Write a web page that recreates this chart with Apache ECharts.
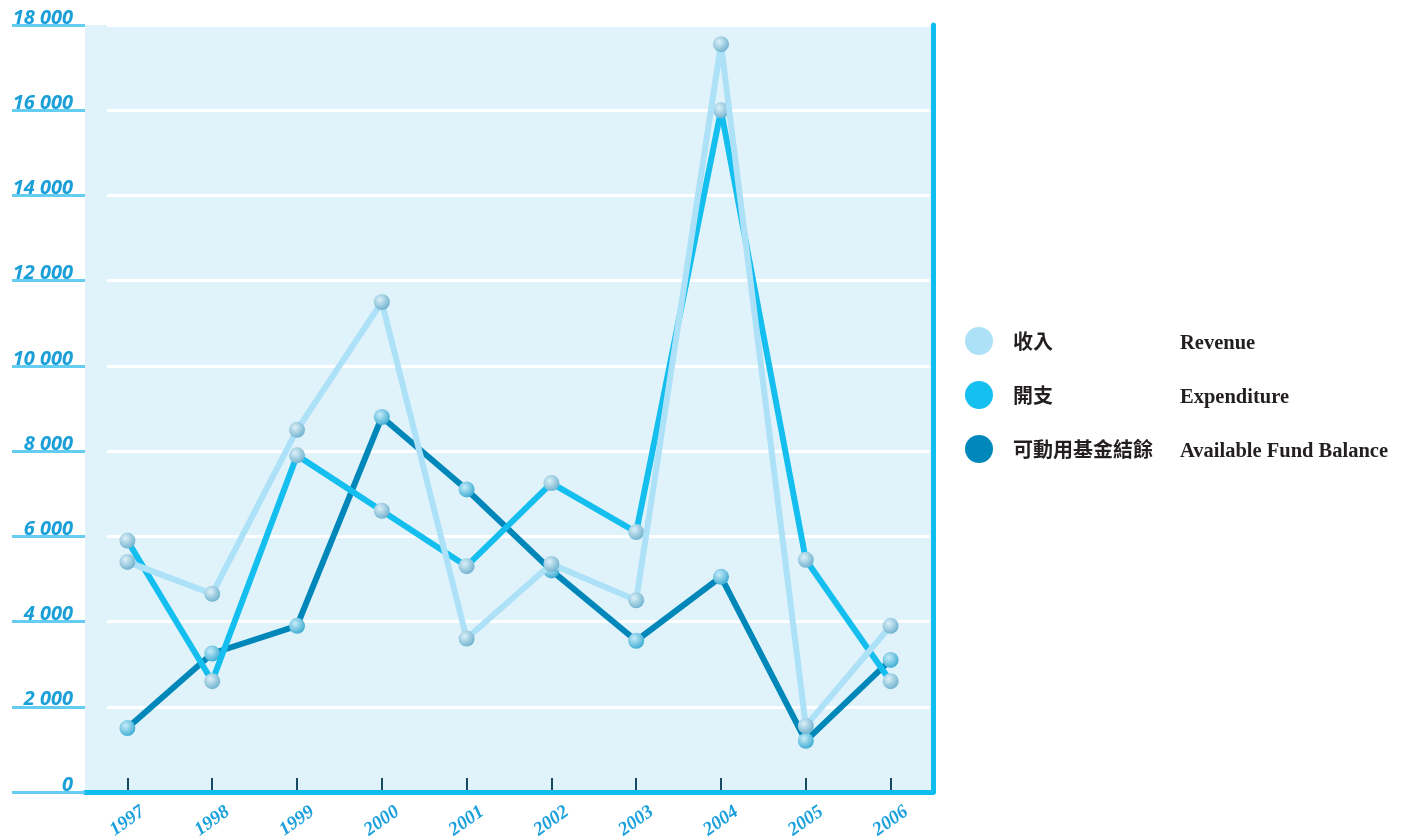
<!DOCTYPE html>
<html>
<head>
<meta charset="utf-8">
<script src="https://cdn.jsdelivr.net/npm/echarts@6/dist/echarts.min.js"></script>
<style>html,body{margin:0;padding:0;background:#fff;}#c{width:1407px;height:838px;}</style>
</head>
<body>
<div id="c"></div>
<script>
const years = ['1997','1998','1999','2000','2001','2002','2003','2004','2005','2006'];
const revenue = [5400, 4650, 8500, 11500, 3600, 5350, 4500, 17550, 1550, 3900];
const expenditure = [5900, 2600, 7900, 6600, 5300, 7250, 6100, 16000, 5450, 2600];
const balance = [1500, 3250, 3900, 8800, 7100, 5200, 3550, 5050, 1200, 3100];
const seriesNamesCn = ['收入', '開支', '可動用基金結餘'];
const seriesNamesEn = ['Revenue', 'Expenditure', 'Available Fund Balance'];
const yTickLabels = ['0','2 000','4 000','6 000','8 000','10 000','12 000','14 000','16 000','18 000'];

const chart = echarts.init(document.getElementById('c'));
function ball(c1, c2) {
  return new echarts.graphic.RadialGradient(0.38, 0.35, 0.7, [
    {offset: 0, color: c1}, {offset: 1, color: c2}
  ]);
}
const lineColors = ['#ade1f8', '#14bff0', '#0087ba'];
const legendColors = ['#ade1f8', '#14c0f0', '#0088bb'];
const markerColors = [ball('#dcf0f8', '#6cb0cd'), ball('#dcf0f8', '#6cb0cd'), ball('#c6ecf8', '#3aaad2')];
const dataArr = [revenue, expenditure, balance];
const names = seriesNamesCn;

const series = [2, 1, 0].map(i => ({
  name: names[i],
  type: 'line',
  xAxisIndex: 0, yAxisIndex: 0,
  data: dataArr[i],
  symbol: 'circle',
  symbolSize: 16,
  showSymbol: true,
  lineStyle: {color: lineColors[i], width: 6},
  itemStyle: {color: markerColors[i]},
  emphasis: {disabled: true},
  animation: false,
  z: 3 + (2 - i)
}));

chart.setOption({
  animation: false,
  grid: [
    {left: 85, right: 474, top: 25, bottom: 46, show: true, backgroundColor: '#e0f3fb', borderWidth: 0, containLabel: false, outerBoundsMode: 'none'},
    {left: 107, right: 477, top: 25, bottom: 46, show: false, containLabel: false, outerBoundsMode: 'none'}
  ],
  legend: {
    orient: 'vertical',
    left: 960, top: 319,
    itemWidth: 28, itemHeight: 28, itemGap: 20,
    icon: 'circle',
    selectedMode: false,
    data: names.map((n, i) => ({name: n, itemStyle: {color: legendColors[i]}})),
    formatter: function (name) {
      const i = names.indexOf(name);
      return '{sp|}{cn|' + name + '}{en|' + seriesNamesEn[i] + '}';
    },
    textStyle: {
      rich: {
        sp: {width: 15, height: 28},
        cn: {width: 167, height: 28, verticalAlign: 'middle', fontFamily: 'Noto Sans CJK TC', fontWeight: 'bold', fontSize: 20, color: '#231f20', lineHeight: 28},
        en: {height: 28, verticalAlign: 'middle', padding: [6, 0, 0, 0], fontFamily: 'Liberation Serif', fontWeight: 'bold', fontSize: 20.5, color: '#231f20', lineHeight: 28}
      }
    }
  },
  xAxis: [
    {
      type: 'category', data: years, gridIndex: 0, position: 'bottom', offset: 3,
      axisLine: {show: true, lineStyle: {color: '#0fbdee', width: 5}},
      axisTick: {show: false},
      axisLabel: {
        rotate: 35, align: 'center', verticalAlign: 'middle', margin: 26,
        color: '#1aa0dc', fontFamily: 'Liberation Serif', fontStyle: 'italic', fontWeight: 'bold', fontSize: 19
      },
      splitLine: {show: false}
    },
    {
      type: 'category', data: years, gridIndex: 0, position: 'bottom', offset: -2,
      axisLine: {show: false},
      axisTick: {show: true, inside: true, length: 12, alignWithLabel: true, lineStyle: {color: '#164b63', width: 2}},
      axisLabel: {show: false},
      splitLine: {show: false}
    },
    {
      type: 'category', data: years, gridIndex: 1, show: false
    }
  ],
  yAxis: [
    {
      type: 'value', gridIndex: 0, min: 0, max: 18000, interval: 2000, position: 'left',
      axisLine: {show: false},
      axisTick: {show: true, inside: false, length: 73, lineStyle: {color: '#66cdf2', width: 3}},
      axisLabel: {
        margin: 12, align: 'right', verticalAlign: 'bottom', lineHeight: 20, padding: [0, 0, -3, 0],
        color: '#1a9fd8', fontFamily: 'Noto Sans', fontStyle: 'italic', fontWeight: 'bold', fontSize: 20,
        formatter: function (v) { return yTickLabels[Math.round(v / 2000)]; }
      },
      splitLine: {show: false}
    },
    {
      type: 'value', gridIndex: 0, min: 0, max: 18000, interval: 2000, position: 'right',
      axisLine: {show: true, lineStyle: {color: '#0fbdee', width: 5}},
      axisTick: {show: false}, axisLabel: {show: false}, splitLine: {show: false}
    },
    {
      type: 'value', gridIndex: 1, min: 0, max: 18000, interval: 2000,
      axisLine: {show: false}, axisTick: {show: false}, axisLabel: {show: false},
      splitLine: {show: true, lineStyle: {color: '#ffffff', width: 3}}
    }
  ],
  series: series
});
</script>
</body>
</html>
